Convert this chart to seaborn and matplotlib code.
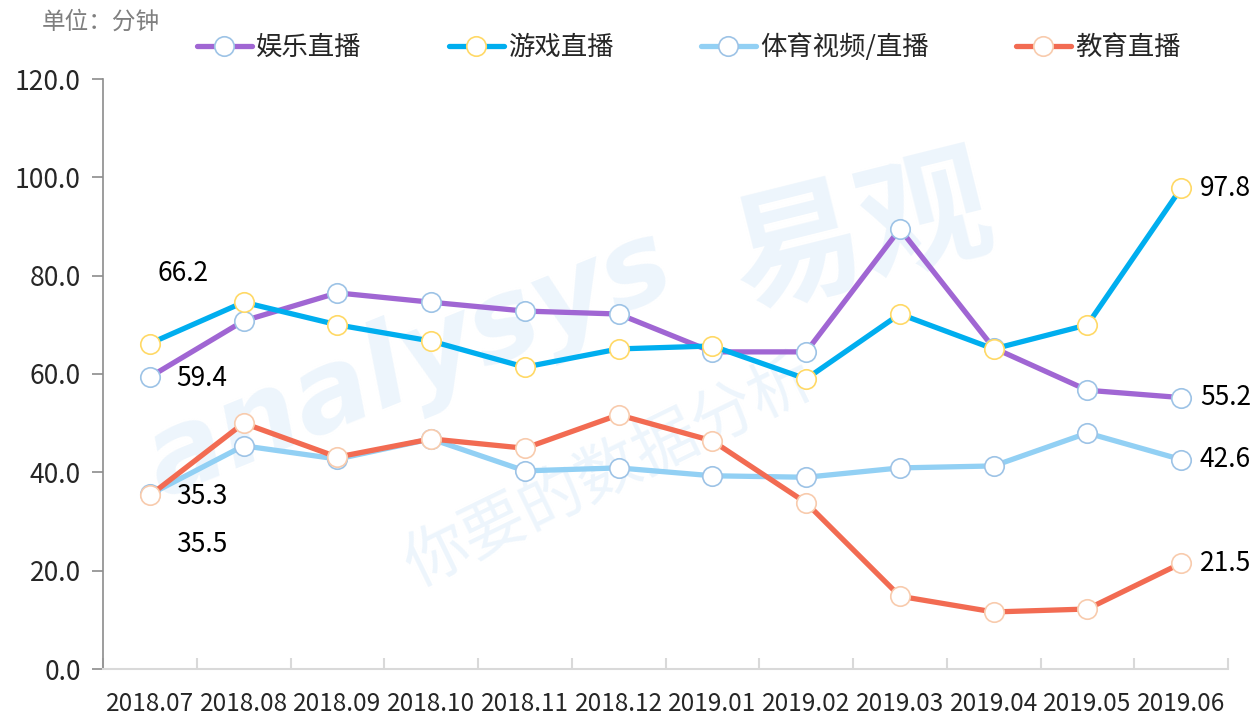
import matplotlib
matplotlib.use("Agg")
import matplotlib.pyplot as plt
import pandas as pd
import seaborn as sns

months = ["2018.07", "2018.08", "2018.09", "2018.10", "2018.11", "2018.12",
          "2019.01", "2019.02", "2019.03", "2019.04", "2019.05", "2019.06"]
ent = [59.4, 70.8, 76.5, 74.6, 72.8, 72.2, 64.5, 64.5, 89.5, 65.3, 56.7, 55.2]
game = [66.2, 74.6, 70.0, 66.7, 61.4, 65.1, 65.7, 59.0, 72.2, 65.1, 70.0, 97.8]
sport = [35.5, 45.4, 42.7, 46.8, 40.3, 40.9, 39.3, 39.0, 40.9, 41.3, 48.0, 42.6]
edu = [35.3, 50.0, 43.1, 46.8, 44.9, 51.7, 46.4, 33.8, 14.8, 11.6, 12.2, 21.5]

series_names = ["娱乐直播", "游戏直播", "体育视频/直播", "教育直播"]
line_colors = ["#A066D3", "#00AEEF", "#92D0F4", "#F26B52"]
edge_colors = ["#9DC3E6", "#FFD966", "#9DC3E6", "#F8CBAD"]

df = pd.DataFrame({"month": months * 4,
                   "value": ent + game + sport + edu,
                   "series": sum([[n] * len(months) for n in series_names], [])})

sns.set_style("white")
plt.rcParams["font.family"] = ["Noto Sans CJK SC", "DejaVu Sans"]

fig = plt.figure(figsize=(12.58, 7.15), dpi=100)

# watermark (behind the axes)
wm = dict(transform=fig.transFigure, zorder=0, ha="center", va="center")
fig.text(0.325, 0.49, "analysys", fontsize=82, fontweight="bold", style="italic",
         color="#EDF5FC", rotation=22, family="DejaVu Sans", **wm)
fig.text(0.685, 0.67, "易观", fontsize=95, fontweight="bold", color="#EDF5FC",
         rotation=14, **wm)
fig.text(0.485, 0.34, "你要的数据分析", fontsize=46, color="#EDF5FC",
         rotation=26, **wm)

ax = fig.add_axes([103 / 1258, 46 / 715, 1125 / 1258, 590 / 715])
ax.set_zorder(2)
ax.patch.set_alpha(0)

for name, lc, ec in zip(series_names, line_colors, edge_colors):
    sns.lineplot(data=df[df["series"] == name], x="month", y="value", ax=ax,
                 color=lc, linewidth=3.8, marker="o", markersize=14,
                 markerfacecolor="white", markeredgecolor=ec,
                 markeredgewidth=1.2, label=name, zorder=3)

ax.set_xlim(-0.5, len(months) - 0.5)
ax.set_ylim(0, 120)
ax.set_yticks(range(0, 121, 20))
ax.set_yticklabels([f"{v:.1f}" for v in range(0, 121, 20)])
ax.set_xlabel("")
ax.set_ylabel("")

for s in ["top", "right"]:
    ax.spines[s].set_visible(False)
ax.spines["left"].set_color("#8C8C8C")
ax.spines["left"].set_linewidth(1.2)
ax.spines["bottom"].set_color("#D9D9D9")
ax.spines["bottom"].set_linewidth(1.5)

ax.tick_params(axis="y", which="major", left=True, length=8, color="#8C8C8C",
               width=1.2, labelsize=19, pad=8)
ax.set_xticks([i + 0.5 for i in range(-1, len(months))], minor=True)
ax.tick_params(axis="x", which="minor", bottom=True, length=8, color="#D9D9D9",
               width=1.5, direction="in")
ax.tick_params(axis="x", which="major", bottom=False, labelsize=17.5, pad=12)
ax.set_xticks(range(len(months)))
ax.set_xticklabels(months)

# data labels
lab = dict(fontsize=19, color="black", va="center")
ax.text(0.08, 80.5, f"{game[0]:.1f}", ha="left", **lab)
ax.text(0.28, 59.0, f"{ent[0]:.1f}", ha="left", **lab)
ax.text(0.28, 35.0, f"{edu[0]:.1f}", ha="left", **lab)
ax.text(0.28, 25.4, f"{sport[0]:.1f}", ha="left", **lab)
last = len(months) - 1
for vals in [game, ent, sport, edu]:
    ax.text(last + 0.2, vals[-1], f"{vals[-1]:.1f}", ha="left", clip_on=False, **lab)

handles, labels = ax.get_legend_handles_labels()
ax.get_legend().remove()
fig.legend(handles, labels, loc="center left", bbox_to_anchor=(173 / 1258, 1 - 47 / 715),
           ncol=4, frameon=False, fontsize=19, handlelength=2.1, handletextpad=0.15,
           columnspacing=3.3)
fig.text(42 / 1258, 1 - 22 / 715, "单位：分钟", fontsize=17, color="#7F7F7F",
         ha="left", va="center")

fig.savefig("out.png", dpi=100)
